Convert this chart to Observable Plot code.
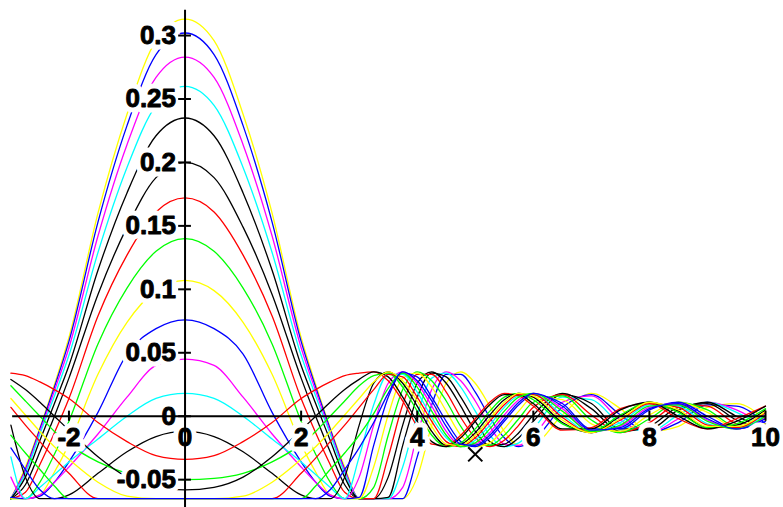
<!DOCTYPE html>
<html>
<head>
<meta charset="utf-8">
<script src="https://cdn.jsdelivr.net/npm/d3@7"></script>
<script src="https://cdn.jsdelivr.net/npm/@observablehq/plot@0.6"></script>
<style>
  html, body { margin: 0; padding: 0; background: #ffffff; }
  #chart svg { display: block; }
</style>
</head>
<body>
<div id="chart"></div>
<script>
// shared x positions of the sampled curves
const xs = [-3, -2.75, -2.5, -2.25, -2, -1.5, -1, -0.5, 0,
  0.5, 1, 1.5, 2, 2.25, 2.5, 2.75, 3, 3.25, 3.5, 3.75, 4,
  4.25, 4.5, 4.75, 5, 5.25, 5.5, 5.75, 6, 6.5, 7, 7.5, 8, 8.5, 9, 9.5, 10];

// curve values (bottom of the view is -0.065)
const curve01 = [-.065,-.040,-.009,.025,.062,.160,.238,.296, .313, .296,.238,.160,.062, .025,-.009,-.040,-.065, -.065,-.065,-.065,-.048, -.007,.026,.035,.026, .008,-.012,-.023,-.022, .001,.018,.006,-.012, -.008,.007,.010,-.003];
const curve02 = [-.065,-.042,-.010,.023,.059,.153,.229,.285, .302, .285,.229,.153,.059, .023,-.010,-.042,-.065, -.065,-.065,-.065,-.032, .009,.033,.033,.019, -.001,-.017,-.024,-.019, .007,.017,.001,-.013, -.005,.009,.008,-.006];
const curve03 = [-.065,-.043,-.012,.020,.054,.142,.214,.267, .283, .267,.214,.142,.054, .020,-.012,-.043,-.065, -.065,-.065,-.056,-.015, .021,.035,.028,.012, -.008,-.022,-.023,-.015, .011,.016,-.003,-.013, -.002,.011,.005,-.008];
const curve04 = [-.065,-.045,-.014,.016,.048,.129,.196,.245, .260, .245,.196,.129,.048, .016,-.014,-.045,-.065, -.065,-.065,-.040,.001, .030,.034,.023,.004, -.015,-.024,-.021,-.010, .015,.013,-.006,-.012, .001,.011,.003,-.009];
const curve05 = [-.065,-.048,-.019,.010,.040,.115,.176,.221, .235, .221,.176,.115,.040, .010,-.019,-.048,-.065, -.065,-.064,-.023,.015, .034,.031,.015,-.004, -.020,-.024,-.017,-.004, .017,.010,-.010,-.010, .005,.011,.000,-.010];
const curve06 = [-.065,-.054,-.028,.000,.030,.096,.149,.188, .200, .188,.149,.096,.030, .000,-.028,-.054,-.065, -.065,-.048,-.007,.026, .035,.026,.008,-.012, -.023,-.022,-.013,.001, .018,.006,-.012,-.008, .007,.010,-.003,-.010];
const curve07 = [-.065,-.060,-.038,-.013,.014,.079,.127,.161, .172, .161,.127,.079,.014, -.013,-.038,-.060,-.065, -.065,-.032,.009,.033, .033,.019,-.001,-.017, -.024,-.019,-.007,.007, .017,.001,-.013,-.005, .009,.008,-.006,-.009];
const curve08 = [-.065,-.065,-.052,-.030,-.004,.057,.101,.130, .140, .130,.101,.057,-.004, -.030,-.052,-.065,-.065, -.056,-.015,.021,.035, .028,.012,-.008,-.022, -.023,-.015,-.002,.011, .016,-.003,-.013,-.002, .011,.005,-.008,-.008];
const curve09 = [-.065,-.065,-.062,-.044,-.022,.033,.074,.099, .107, .099,.074,.033,-.022, -.044,-.062,-.065,-.065, -.040,.001,.030,.034, .023,.004,-.015,-.024, -.021,-.010,.004,.015, .013,-.006,-.012,.001, .011,.003,-.009,-.006];
const curve10 = [-.064,-.065,-.063,-.052,-.036,.003,.049,.069, .076, .069,.049,.003,-.036, -.052,-.063,-.065,-.064, -.023,.015,.034,.031, .015,-.004,-.020,-.024, -.017,-.004,.009,.017, .010,-.010,-.010,.005, .011,.000,-.010,-.004];
const curve11 = [-.048,-.065,-.062,-.052,-.040,-.014,.015,.040, .045, .040,.015,-.014,-.040, -.052,-.062,-.065,-.048, -.007,.026,.035,.026, .008,-.012,-.023,-.022, -.013,.001,.013,.018, .006,-.012,-.008,.007, .010,-.003,-.010,-.001];
const curve12 = [-.032,-.065,-.056,-.046,-.036,-.018,.000,.014, .018, .014,.000,-.018,-.036, -.046,-.056,-.065,-.032, .009,.033,.033,.019, -.001,-.017,-.024,-.019, -.007,.007,.016,.017, .001,-.013,-.005,.009, .008,-.006,-.009,.001];
const curve13 = [-.007,-.048,-.065,-.065,-.062,-.045,-.028,-.016, -.012, -.016,-.028,-.045,-.062, -.065,-.065,-.048,-.007, .026,.035,.026,.008, -.012,-.023,-.022,-.013, .001,.013,.018,.015, -.005,-.013,.000,.011, .004,-.009,-.007,.005];
const curve14 = [.034,.032,.027,.021,.014,-.005,-.020,-.031, -.034, -.031,-.020,-.005,.014, .021,.027,.032,.034, .035,.028,.012,-.008, -.022,-.023,-.015,-.002, .011,.018,.016,.008, -.011,-.009,.006,.010, -.002,-.010,-.002,.008];
const curve15 = [.024,.012,.000,-.012,-.022,-.036,-.045,-.049, -.050, -.049,-.045,-.036,-.022, -.012,.000,.012,.024, .032,.034,.023,.004, -.015,-.024,-.021,-.010, .004,.015,.018,.013, -.006,-.012,.001,.011, .003,-.009,-.006,.006];
const curve16 = [.029,.021,.011,.000,-.011,-.032,-.048,-.056, -.058, -.056,-.048,-.032,-.011, .000,.011,.021,.029, .035,.031,.015,-.004, -.020,-.024,-.017,-.004, .009,.017,.017,.010, -.010,-.010,.005,.011, .000,-.010,-.004,.008];
const curve17 = [.007,-.007,-.020,-.033,-.045,-.065,-.065,-.065, -.065, -.065,-.065,-.065,-.045, -.033,-.020,-.007,.007, .021,.033,.031,.015, -.004,-.020,-.024,-.017, -.004,.009,.017,.017, -.001,-.013,-.003,.010, .007,-.007,-.009,.003];
const curve18 = [.014,.001,-.012,-.024,-.034,-.052,-.063,-.065, -.065, -.065,-.063,-.052,-.034, -.024,-.012,.001,.014, .027,.035,.028,.012, -.008,-.022,-.023,-.015, -.002,.011,.018,.016, -.003,-.013,-.002,.011, .005,-.008,-.008,.004];
const curve19 = [-.015,-.029,-.042,-.055,-.065,-.065,-.065,-.065, -.065, -.065,-.065,-.065,-.065, -.055,-.042,-.029,-.015, .002,.022,.034,.023, .004,-.015,-.024,-.021, -.010,.004,.015,.018, .004,-.012,-.007,.008, .009,-.004,-.010,.000];
const curve20 = [-.025,-.042,-.058,-.065,-.065,-.065,-.065,-.065, -.065, -.065,-.065,-.065,-.065, -.065,-.058,-.042,-.025, -.005,.018,.035,.028, .012,-.008,-.022,-.023, -.015,-.002,.011,.018, .008,-.011,-.009,.006, .010,-.002,-.010,-.002];

const curveColors = ["#ffff00","#0000ff","#ff00ff","#00ffff","#000000","#000000","#ff0000","#00ff00",
  "#ffff00","#0000ff","#ff00ff","#00ffff","#000000","#ff0000","#00ff00","#000000",
  "#ff0000","#ffff00","#00ff00","#0000ff"];

// axis ticks and their labels
const xTicks = [-2, 0, 2, 4, 6, 8, 10];
const xTickLabels = ["-2", "0", "2", "4", "6", "8", "10"];
const yTicks = [-0.05, 0, 0.05, 0.1, 0.15, 0.2, 0.25, 0.3];
const yTickLabels = ["-0.05", "0", "0.05", "0.1", "0.15", "0.2", "0.25", "0.3"];

// the small cross marker
const crossX = [5];
const crossY = [-0.03];

const curves = [curve01, curve02, curve03, curve04, curve05, curve06, curve07, curve08, curve09, curve10,
  curve11, curve12, curve13, curve14, curve15, curve16, curve17, curve18, curve19, curve20];

const curveMarks = curves.map((ys, k) =>
  Plot.line(xs.map((x, i) => ({x, y: ys[i]})), {
    x: "x", y: "y", stroke: curveColors[k], strokeWidth: 1.3, curve: "monotone-x"
  })
);

const fontBase = {fontFamily: "Liberation Sans, Arial, Helvetica, sans-serif", fontWeight: "bold", fontSize: 26};
const haloStyle = {...fontBase, fill: "white", stroke: "white", strokeWidth: 11, strokeLinejoin: "round"};
const inkStyle = {...fontBase, fill: "black", stroke: "black", strokeWidth: 0.9};

const yLabelOpts = {x: 0, y: d => d, text: (d, i) => yTickLabels[i], dx: -9, textAnchor: "end"};
const xLabelOpts = {x: d => d, y: 0, text: (d, i) => xTickLabels[i], dy: 21, textAnchor: "middle"};

const chart = Plot.plot({
  width: 783,
  height: 507,
  margin: 0,
  x: {domain: [-3, 10], range: [10.4, 765], axis: null},
  y: {domain: [-0.065, 0.315], range: [498.2, 16.0], axis: null},
  marks: [
    ...curveMarks,
    Plot.text(yTicks, {...yLabelOpts, ...haloStyle}),
    Plot.text(xTicks, {...xLabelOpts, ...haloStyle}),
    Plot.text(yTicks, {...yLabelOpts, ...inkStyle}),
    Plot.text(xTicks, {...xLabelOpts, ...inkStyle}),
    Plot.ruleY([0], {x1: -2.97, x2: 10, stroke: "black", strokeWidth: 2}),
    Plot.ruleX([0], {y1: -0.0725, y2: 0.32, stroke: "black", strokeWidth: 2}),
    Plot.ruleY(yTicks, {x1: -0.11, x2: 0.11, stroke: "black", strokeWidth: 2}),
    Plot.ruleX(xTicks, {y1: -0.004, y2: 0.004, stroke: "black", strokeWidth: 2}),
    Plot.dot(crossX.map((x, i) => ({x, y: crossY[i]})), {x: "x", y: "y", symbol: "times", r: 6.5, stroke: "black", strokeWidth: 2})
  ]
});
document.getElementById("chart").append(chart);
</script>
</body>
</html>
